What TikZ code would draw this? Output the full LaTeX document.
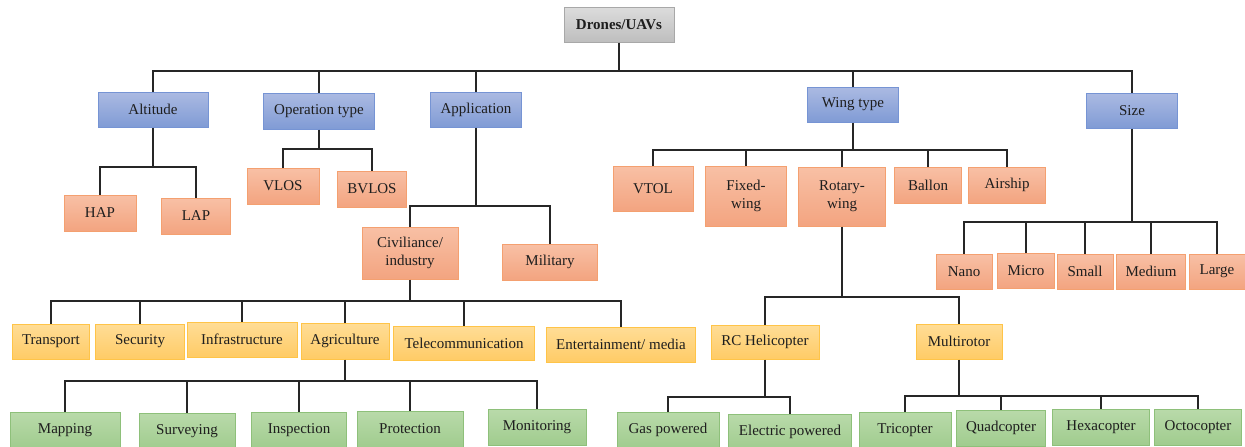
\documentclass[tikz,border=0pt]{standalone}
\usepackage{fontspec}
\setmainfont{Liberation Serif}
\definecolor{blueTop}{RGB}{171,186,226}
\definecolor{blueBot}{RGB}{128,155,213}
\definecolor{blueLine}{RGB}{118,148,212}
\definecolor{orTop}{RGB}{248,192,165}
\definecolor{orBot}{RGB}{243,164,128}
\definecolor{orLine}{RGB}{244,160,112}
\definecolor{yeTop}{RGB}{255,221,150}
\definecolor{yeBot}{RGB}{255,203,102}
\definecolor{yeLine}{RGB}{255,196,72}
\definecolor{grTop}{RGB}{185,218,170}
\definecolor{grBot}{RGB}{160,204,142}
\definecolor{grLine}{RGB}{142,192,122}
\definecolor{gyTop}{RGB}{220,220,220}
\definecolor{gyBot}{RGB}{190,190,190}
\definecolor{gyLine}{RGB}{168,168,168}
\definecolor{txt}{RGB}{30,30,30}
\begin{document}
\begin{tikzpicture}[x=1pt,y=1pt,
  box/.style={line width=1pt, inner sep=1pt, align=center, text=txt,
    font=\fontsize{15}{18}\selectfont},
  sz/.style 2 args={minimum width=#1pt, minimum height=#2pt},
  catbox/.style={box, draw=blueLine, top color=blueTop, bottom color=blueBot},
  subbox/.style={box, draw=orLine, top color=orTop, bottom color=orBot},
  fieldbox/.style={box, draw=yeLine, top color=yeTop, bottom color=yeBot},
  leafbox/.style={box, draw=grLine, top color=grTop, bottom color=grBot},
  rootbox/.style={box, draw=gyLine, top color=gyTop, bottom color=gyBot, font=\fontsize{15}{18}\selectfont\bfseries},
  link/.style={line width=2pt, draw=black!85}]
\useasboundingbox (0,0) rectangle (1245,-447);
\clip (0,0) rectangle (1245,-447);

% root and main categories
\node[rootbox, sz={110}{35}] (root) at (619,-24.5) {Drones/UAVs};
\node[catbox, sz={110}{35}] (alt)  at (153,-109.5) {Altitude};
\node[catbox, sz={111}{36}] (op)   at (319,-111) {Operation type};
\node[catbox, sz={91}{35}]  (app)  at (476,-109.5) {Application};
\node[catbox, sz={91}{35}]  (wing) at (853,-104.5) {Wing type};
\node[catbox, sz={91}{35}]  (size) at (1132,-110.5) {Size};

% altitude and operation type
\node[subbox, sz={72}{36}] (hap)   at (100,-213) {HAP};
\node[subbox, sz={69}{36}] (lap)   at (196,-216) {LAP};
\node[subbox, sz={72}{36}] (vlos)  at (283,-186) {VLOS};
\node[subbox, sz={69}{36}] (bvlos) at (372,-189) {BVLOS};

% application
\node[subbox, sz={96}{52}] (civ) at (410,-253) {Civiliance/\\industry};
\node[subbox, sz={95}{36}] (mil) at (550,-262) {Military};

\node[fieldbox, sz={77}{35}]  (trans) at (51,-341.5) {Transport};
\node[fieldbox, sz={89}{35}]  (sec)   at (140,-341.5) {Security};
\node[fieldbox, sz={110}{35}] (infra) at (242,-339.5) {Infrastructure};
\node[fieldbox, sz={88}{36}]  (agri)  at (345,-341) {Agriculture};
\node[fieldbox, sz={141}{34}] (tele)  at (464,-343) {Telecommunication};
\node[fieldbox, sz={149}{35}] (ent)   at (621,-344.5) {Entertainment/ media};

\node[leafbox, sz={110}{36}] (map)  at (65,-430) {Mapping};
\node[leafbox, sz={96}{36}]  (surv) at (187,-431) {Surveying};
\node[leafbox, sz={95}{36}]  (insp) at (299,-430) {Inspection};
\node[leafbox, sz={106}{36}] (prot) at (410,-429) {Protection};
\node[leafbox, sz={98}{36}]  (mon)  at (537,-427) {Monitoring};

% wing type
\node[subbox, sz={80}{45}] (vtol)  at (653,-188.5) {VTOL};
\node[subbox, sz={81}{60}] (fixed) at (746,-196) {Fixed-\\wing};
\node[subbox, sz={87}{59}] (rot)   at (842,-196.5) {Rotary-\\wing};
\node[subbox, sz={67}{36}] (ball)  at (928,-185) {Ballon};
\node[subbox, sz={77}{36}] (airs)  at (1007,-185) {Airship};

\node[fieldbox, sz={108}{34}] (rc)    at (765,-342) {RC Helicopter};
\node[fieldbox, sz={86}{35}]  (multi) at (959,-341.5) {Multirotor};

\node[leafbox, sz={102}{36}] (gas)  at (668,-430) {Gas powered};
\node[leafbox, sz={123}{36}] (elec) at (790,-432) {Electric powered};
\node[leafbox, sz={92}{36}]  (tri)  at (905,-430) {Tricopter};
\node[leafbox, sz={89}{36}]  (quad) at (1001,-428) {Quadcopter};
\node[leafbox, sz={97}{36}]  (hexa) at (1101,-427) {Hexacopter};
\node[leafbox, sz={87}{36}]  (octo) at (1198,-427) {Octocopter};

% size
\node[subbox, sz={56}{35}] (nano)   at (964,-271.5) {Nano};
\node[subbox, sz={57}{35}] (micro)  at (1026,-271) {Micro};
\node[subbox, sz={56}{35}] (small)  at (1085,-271.5) {Small};
\node[subbox, sz={69}{35}] (medium) at (1151,-271.5) {Medium};
\node[subbox, sz={56}{35}] (large)  at (1217,-271.5) {Large};

% bus junctions below each parent
\coordinate (j-root)  at (root.south |- 0,-71);
\coordinate (j-alt)   at (alt.south |- 0,-167);
\coordinate (j-op)    at (op.south |- 0,-149);
\coordinate (j-app)   at (app.south |- 0,-206);
\coordinate (j-civ)   at (civ.south |- 0,-301);
\coordinate (j-agri)  at (agri.south |- 0,-381);
\coordinate (j-wing)  at (wing.south |- 0,-150);
\coordinate (j-rot)   at (rot.south |- 0,-297);
\coordinate (j-rc)    at (rc.south |- 0,-397);
\coordinate (j-multi) at (multi.south |- 0,-396);
\coordinate (j-size)  at (size.south |- 0,-222);

% connectors
\begin{scope}[link]
  \foreach \p/\kids in {root/{alt,op,app,wing,size},
                         alt/{hap,lap}, op/{vlos,bvlos},
                         app/{civ,mil},
                         civ/{trans,sec,infra,agri,tele,ent},
                         agri/{map,surv,insp,prot,mon},
                         wing/{vtol,fixed,rot,ball,airs},
                         rot/{rc,multi}, rc/{gas,elec},
                         multi/{tri,quad,hexa,octo},
                         size/{nano,micro,small,medium,large}} {
    \draw (\p.south) -- (j-\p);
    \foreach \k in \kids {
      \draw (\k.north) |- (j-\p);
    }
  }
\end{scope}
\end{tikzpicture}
\end{document}
